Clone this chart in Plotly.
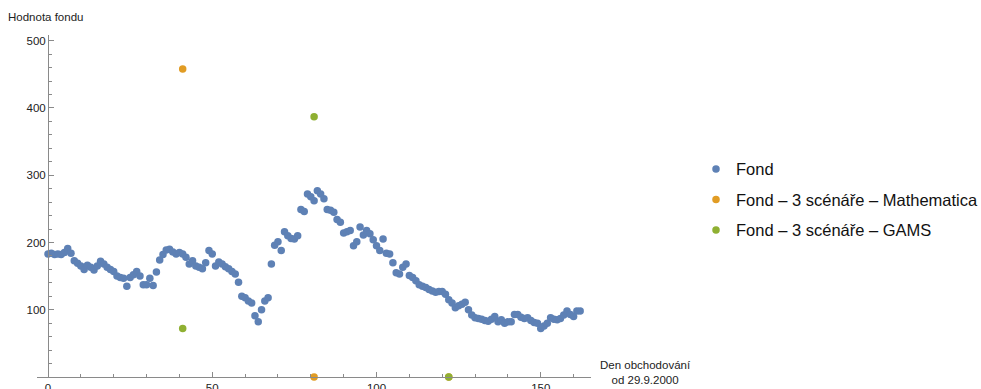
import plotly.graph_objects as go

# Daily fund value (trading days counted from 29.9.2000)
fond = [
    183, 184, 182, 183, 182, 185, 191, 184, 173, 169,
    165, 160, 166, 163, 159, 165, 172, 168, 163, 160,
    157, 150, 148, 147, 135, 148, 152, 157, 150, 137,
    137, 147, 136, 156, 174, 182, 189, 190, 186, 183,
    185, 183, 178, 168, 173, 165, 163, 161, 170, 188,
    183, 165, 171, 168, 164, 161, 157, 153, 141, 120,
    118, 113, 110, 91, 82, 100, 113, 118, 168, 196,
    201, 188, 216, 210, 206, 205, 210, 249, 246, 272,
    268, 262, 277, 272, 265, 249, 248, 245, 234, 230,
    214, 216, 218, 195, 201, 223, 211, 218, 213, 204,
    195, 188, 205, 184, 183, 170, 155, 153, 163, 168,
    151, 148, 143, 137, 135, 133, 130, 128, 126, 127,
    127, 123, 115, 110, 103, 106, 108, 111, 100, 92,
    88, 87, 86, 84, 83, 86, 90, 82, 85, 80,
    82, 82, 93, 93, 89, 87, 88, 84, 81, 80,
    72, 76, 80, 88, 86, 85, 87, 92, 98, 93,
    90, 98, 98,
]
days = list(range(len(fond)))

# Three-scenario results
mma_days = [41, 81, 122]
mma_vals = [458, 0, 0]
gams_days = [41, 81, 122]
gams_vals = [72, 387, 0]

x_range = [-3.35, 165.3]
y_range = [0, 508.5]

BLUE = "#5E81B5"
ORANGE = "#E19C24"
GREEN = "#8FB032"
FONT = "Liberation Sans, Arial, sans-serif"

fig = go.Figure()
fig.add_trace(go.Scatter(
    x=days, y=fond, mode="markers", name="Fond", legendgroup="a",
    marker=dict(color=BLUE, size=7.5), cliponaxis=False,
))
fig.add_trace(go.Scatter(
    x=mma_days, y=mma_vals, mode="markers",
    name="Fond – 3 scénáře – Mathematica", legendgroup="b",
    marker=dict(color=ORANGE, size=7.5), cliponaxis=False,
))
fig.add_trace(go.Scatter(
    x=gams_days, y=gams_vals, mode="markers",
    name="Fond – 3 scénáře – GAMS", legendgroup="c",
    marker=dict(color=GREEN, size=7.5), cliponaxis=False,
))

axis_color = "#8a8a8a"
y_pos = (0 - x_range[0]) / (x_range[1] - x_range[0])

L, R, T, B = 37, 390, 35, 11.5
PW, PH = 981 - L - R, 389 - T - B

fig.update_layout(
    width=981, height=389,
    margin=dict(l=L, r=R, t=T, b=B, pad=0, autoexpand=False),
    paper_bgcolor="white", plot_bgcolor="white",
    font=dict(family=FONT, size=11.5, color="#222"),
    showlegend=True,
    legend=dict(
        x=(696 - L) / PW, y=(389 - B - 152) / PH, xanchor="left", yanchor="top",
        font=dict(size=16.5, color="#111"),
        tracegroupgap=6, traceorder="grouped",
        bgcolor="rgba(0,0,0,0)",
    ),
    xaxis=dict(
        range=x_range, showgrid=False, zeroline=False, automargin=False,
        showline=True, linecolor=axis_color, linewidth=1,
        ticks="inside", ticklen=5, tickcolor=axis_color,
        tickvals=[0, 50, 100, 150],
        minor=dict(tickvals=list(range(10, 170, 10)), ticks="inside",
                   ticklen=3, tickcolor=axis_color, showgrid=False),
        tickfont=dict(size=11.5, color="#222"),
    ),
    yaxis=dict(
        range=y_range, showgrid=False, zeroline=False, automargin=False,
        anchor="free", position=y_pos,
        showline=True, linecolor=axis_color, linewidth=1,
        ticks="inside", ticklen=5, tickcolor=axis_color,
        tickvals=[100, 200, 300, 400, 500],
        minor=dict(tickvals=list(range(20, 520, 20)), ticks="inside",
                   ticklen=3, tickcolor=axis_color, showgrid=False),
        tickfont=dict(size=11.5, color="#222"),
    ),
    annotations=[
        dict(text="Hodnota fondu", xref="paper", yref="paper",
             x=(6 - L) / PW, y=(389 - B - 17) / PH,
             xanchor="left", yanchor="middle", showarrow=False,
             font=dict(size=11.5, color="#222")),
        dict(text="Den obchodování<br>od 29.9.2000", xref="paper", yref="paper",
             x=(598 - L) / PW, y=(389 - B - 373) / PH,
             xanchor="left", yanchor="middle", align="center", showarrow=False,
             font=dict(size=11.5, color="#222")),
    ],
)

fig.write_html("out.html")
